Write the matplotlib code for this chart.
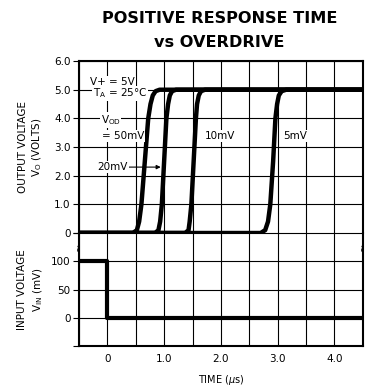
import matplotlib
matplotlib.use('Agg')
import matplotlib.pyplot as plt

plt.rcParams['font.family'] = ['DejaVu Sans']

# output voltage curves (time in us, volts)
t_50 = [-0.5, 0.45, 0.52, 0.56, 0.60, 0.66, 0.72, 0.76, 0.80, 0.85, 0.92, 4.5]
v_50 = [0.0, 0.0, 0.1, 0.4, 1.0, 2.5, 4.0, 4.5, 4.8, 4.95, 5.0, 5.0]
t_20 = [-0.5, 0.84, 0.90, 0.93, 0.96, 1.00, 1.04, 1.07, 1.10, 1.14, 1.21, 4.5]
v_20 = [0.0, 0.0, 0.1, 0.4, 1.0, 2.5, 4.0, 4.5, 4.8, 4.95, 5.0, 5.0]
t_10 = [-0.5, 1.37, 1.43, 1.45, 1.48, 1.52, 1.56, 1.58, 1.61, 1.65, 1.72, 4.5]
v_10 = [0.0, 0.0, 0.1, 0.4, 1.0, 2.5, 4.0, 4.5, 4.8, 4.95, 5.0, 5.0]
t_5 = [-0.5, 2.70, 2.78, 2.83, 2.87, 2.92, 2.96, 2.99, 3.02, 3.07, 3.15, 4.5]
v_5 = [0.0, 0.0, 0.1, 0.4, 1.0, 2.5, 4.0, 4.5, 4.8, 4.95, 5.0, 5.0]

# input step (mV)
t_in = [-0.5, 0.0, 0.0, 4.5]
v_in = [100, 100, 0, 0]

xgrid = [-0.5, 0, 0.5, 1.0, 1.5, 2.0, 2.5, 3.0, 3.5, 4.0, 4.5]
xlabels = ['', '0', '', '1.0', '', '2.0', '', '3.0', '', '4.0', '']
yticks_top = [0, 1, 2, 3, 4, 5, 6]
ylabels_top = ['0', '1.0', '2.0', '3.0', '4.0', '5.0', '6.0']
yticks_bot = [-50, 0, 50, 100, 150]
ylabels_bot = ['', '0', '50', '100', '']

fig = plt.figure(figsize=(3.76, 3.89), dpi=100)
ax1 = fig.add_axes([0.210, 0.401, 0.755, 0.442])
ax2 = fig.add_axes([0.210, 0.1105, 0.755, 0.2905])

for ax in (ax1, ax2):
    ax.set_xlim(-0.5, 4.5)
    ax.set_xticks(xgrid)
    ax.grid(True, color='black', linewidth=0.8)
    for s in ax.spines.values():
        s.set_linewidth(1.5)
    ax.tick_params(axis='x', length=0)
    ax.tick_params(axis='y', length=4, width=0.8, labelsize=7.5, pad=2)
    ax.set_axisbelow(True)

ax1.set_ylim(0, 6)
ax1.set_yticks(yticks_top)
ax1.set_yticklabels(ylabels_top)
ax1.set_xticklabels([])
ax1.spines['bottom'].set_visible(False)

for t, v in [(t_50, v_50), (t_20, v_20), (t_10, v_10), (t_5, v_5)]:
    ax1.plot(t, v, color='black', linewidth=3.2, solid_joinstyle='round',
             solid_capstyle='butt', clip_on=False, zorder=3)

bb = dict(facecolor='white', edgecolor='none', pad=0.5)
ax1.text(-0.30, 5.28, 'V+ = 5V', fontsize=7.5, va='center', bbox=bb, zorder=4)
ax1.text(-0.26, 4.88, r'T$_\mathregular{A}$ = 25°C', fontsize=7.5, va='center', bbox=bb, zorder=4)
ax1.text(-0.12, 3.94, r'V$_\mathregular{OD}$', fontsize=7.5, va='center', bbox=bb, zorder=4)
ax1.text(-0.09, 3.38, '= 50mV', fontsize=7.5, va='center', bbox=bb, zorder=4)
ax1.annotate('20mV', xy=(0.94, 2.30), xytext=(-0.17, 2.30), fontsize=7.5, va='center',
             bbox=bb, zorder=4,
             arrowprops=dict(arrowstyle='-|>', color='black', lw=0.8, mutation_scale=6,
                             shrinkA=0, shrinkB=0))
ax1.text(1.71, 3.38, '10mV', fontsize=7.5, va='center', bbox=bb, zorder=4)
ax1.text(3.10, 3.38, '5mV', fontsize=7.5, va='center', bbox=bb, zorder=4)

ax1.text(-0.197, 0.5, 'OUTPUT VOLTAGE', transform=ax1.transAxes, rotation=90,
         fontsize=7.5, ha='center', va='center')
ax1.text(-0.148, 0.5, r'V$_\mathregular{O}$ (VOLTS)', transform=ax1.transAxes, rotation=90,
         fontsize=7.5, ha='center', va='center')

ax2.set_ylim(-50, 150)
ax2.set_yticks(yticks_bot)
ax2.set_yticklabels(ylabels_bot)
ax2.set_xticklabels(xlabels)
ax2.tick_params(axis='x', labelsize=7.5, pad=6)
ax2.spines['top'].set_visible(False)
ax2.plot(t_in, v_in, color='black', linewidth=3.0, zorder=3)
ax2.set_xlabel(r'TIME ($\mu$s)', fontsize=7, labelpad=6)
ax2.text(-0.20, 0.5, 'INPUT VOLTAGE', transform=ax2.transAxes, rotation=90,
         fontsize=7.5, ha='center', va='center')
ax2.text(-0.145, 0.5, r'V$_\mathregular{IN}$ (mV)', transform=ax2.transAxes, rotation=90,
         fontsize=7.5, ha='center', va='center')

# break marks on both sides
for xb in (0.0, 1.0):
    ax2.text(xb, 0.88, '~', transform=ax2.transAxes, rotation=90, fontsize=7,
             ha='center', va='center')

fig.text(0.585, 0.952, 'POSITIVE RESPONSE TIME', fontsize=11.6, fontweight='bold',
         ha='center', va='center')
fig.text(0.582, 0.890, 'vs OVERDRIVE', fontsize=11.6, fontweight='bold',
         ha='center', va='center')

fig.savefig('out.png', dpi=100)
